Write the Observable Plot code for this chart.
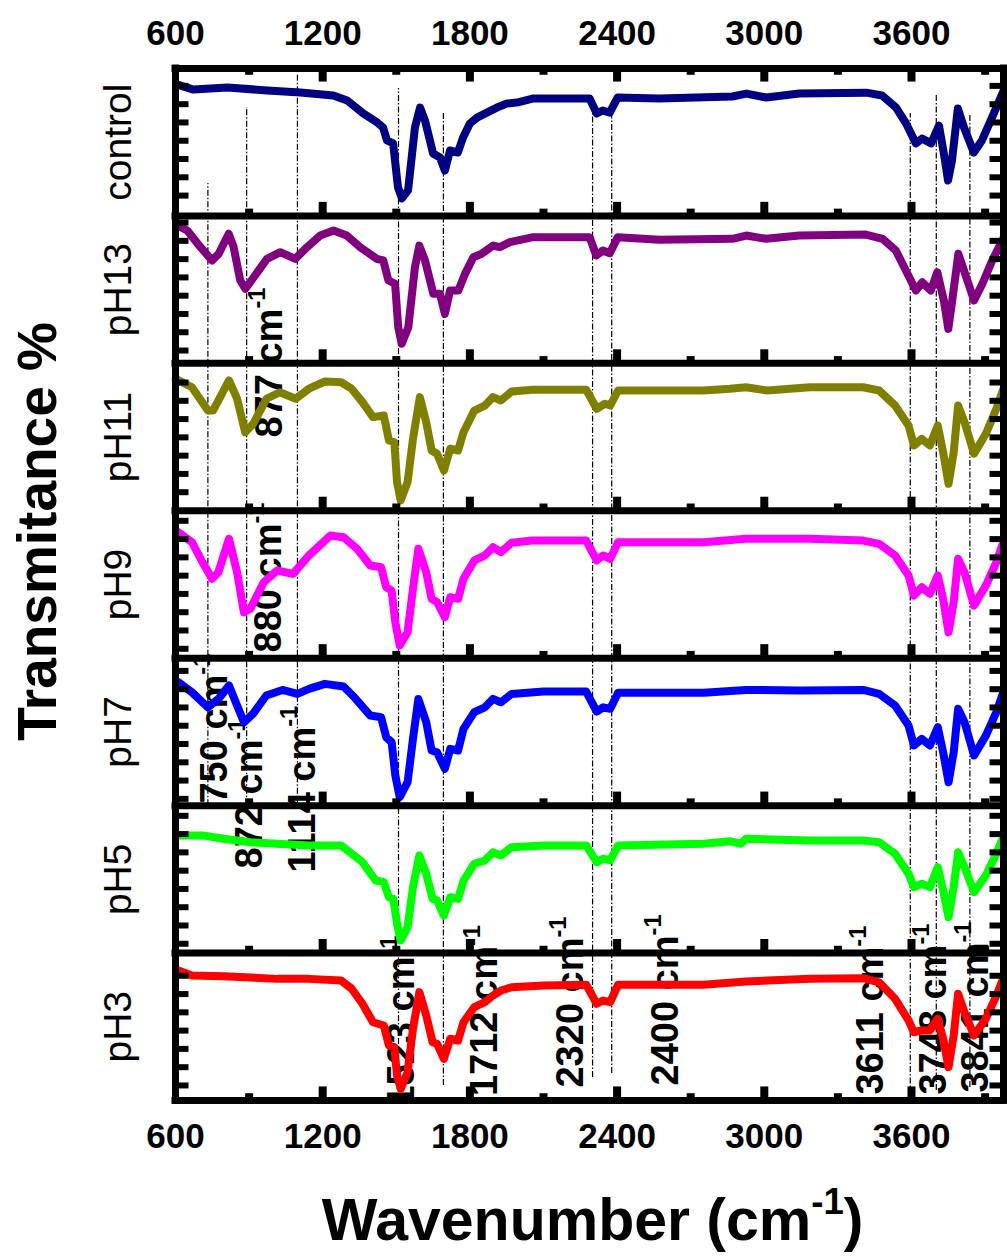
<!DOCTYPE html>
<html><head><meta charset="utf-8">
<script src="https://cdn.jsdelivr.net/npm/d3@7"></script>
<script src="https://cdn.jsdelivr.net/npm/@observablehq/plot@0.6"></script>
<style>
html,body{margin:0;padding:0;background:#fff;}
#chart svg{display:block;}
</style></head><body><div id="chart"></div>
<script>
// Panels listed bottom -> top
const panelNames = ["pH3","pH5","pH7","pH9","pH11","pH13","control"];
const panelColors = ["#FF0000","#00FF00","#0000FF","#FF00FF","#808000","#800080","#000080"];
const panelTickBase = [10.2, 6.3, 4.6, 6.4, 12.6, 8.7, 13.8];

// spectra: [wavenumber, transmittance % of panel height]
const control = [[608,89.1],[673,85.7],[812,87.1],[974,85.1],[1109,83.7],[1243,81.7],[1300,78.3],[1365,69.5],[1422,63.4],[1446,60.0],[1462,51.2],[1487,49.2],[1507,19.3],[1523,11.9],[1548,17.3],[1576,60.0],[1597,73.5],[1617,64.7],[1650,42.3],[1678,39.6],[1698,30.8],[1719,44.4],[1751,43.0],[1772,53.2],[1800,62.7],[1829,66.7],[1869,70.1],[1910,73.5],[1951,76.2],[1991,76.9],[2056,79.6],[2288,79.6],[2317,69.5],[2341,71.5],[2370,70.1],[2402,80.3],[2573,79.6],[2870,81.0],[2927,83.0],[3008,80.3],[3143,83.0],[3415,83.6],[3480,81.7],[3537,73.5],[3578,62.7],[3618,49.2],[3643,52.5],[3680,49.2],[3712,61.3],[3732,42.3],[3749,24.0],[3765,37.6],[3789,72.9],[3814,60.0],[3854,43.0],[3887,51.2],[3928,66.7],[3976,85.1]];
const pH13 = [[607,93.5],[648,90.1],[702,78.8],[749,69.8],[776,74.3],[817,87.9],[837,78.8],[864,56.2],[885,50.6],[919,58.4],[973,70.9],[1027,75.4],[1088,70.9],[1136,78.8],[1190,86.7],[1244,90.1],[1298,86.7],[1353,78.8],[1420,70.9],[1447,69.8],[1468,56.2],[1495,54.0],[1508,24.5],[1522,13.3],[1549,24.5],[1576,65.2],[1594,79.9],[1617,69.8],[1651,47.2],[1678,47.2],[1698,33.6],[1719,49.4],[1753,49.4],[1780,60.7],[1814,72.0],[1848,74.3],[1895,79.9],[1922,78.8],[1963,82.2],[2058,85.6],[2288,85.6],[2315,73.2],[2342,76.6],[2370,74.7],[2403,85.6],[2573,83.8],[2871,84.5],[2926,86.7],[3007,84.5],[3143,86.7],[3414,87.4],[3482,84.5],[3536,76.6],[3577,63.0],[3618,49.4],[3644,55.0],[3679,49.4],[3705,61.8],[3732,42.6],[3750,23.4],[3766,42.6],[3791,74.3],[3814,63.0],[3855,42.6],[3889,54.0],[3929,69.8],[3977,85.6]];
const pH11 = [[601,89.5],[667,83.8],[732,68.0],[753,68.0],[818,88.4],[851,76.0],[884,53.3],[917,59.0],[971,76.0],[1025,80.4],[1090,76.0],[1144,82.8],[1209,87.7],[1275,87.2],[1318,82.8],[1362,73.7],[1405,63.5],[1449,64.6],[1470,47.7],[1492,46.5],[1503,19.4],[1518,7.0],[1546,19.4],[1568,48.8],[1596,77.1],[1622,60.1],[1644,40.9],[1666,38.7],[1694,27.3],[1720,42.1],[1752,40.9],[1774,53.3],[1818,68.0],[1861,71.4],[1894,77.1],[1926,74.8],[1970,80.9],[2056,82.1],[2274,82.1],[2317,69.2],[2350,72.6],[2372,71.4],[2404,81.6],[2752,81.6],[2860,82.8],[2925,83.8],[3012,81.6],[3186,83.8],[3403,83.8],[3468,81.6],[3533,71.4],[3588,57.8],[3610,44.3],[3642,48.8],[3675,44.3],[3707,57.8],[3729,39.7],[3751,18.3],[3772,39.7],[3790,71.4],[3816,60.1],[3855,38.7],[3903,52.2],[3946,69.2],[3979,85.0]];
const pH9 = [[612,85.5],[667,78.7],[710,65.1],[749,53.9],[775,58.3],[818,81.0],[851,58.3],[879,31.2],[905,33.5],[960,51.6],[1014,59.5],[1079,57.2],[1144,69.7],[1231,83.2],[1285,82.1],[1340,74.2],[1394,62.9],[1438,61.7],[1459,48.2],[1481,45.9],[1496,24.4],[1514,8.6],[1546,17.6],[1568,47.1],[1590,74.2],[1622,58.3],[1644,40.3],[1666,38.0],[1698,27.8],[1720,41.4],[1752,40.3],[1774,53.9],[1818,66.3],[1861,69.7],[1894,75.3],[1926,71.9],[1970,78.3],[2056,79.8],[2274,79.8],[2317,66.3],[2343,69.7],[2372,67.4],[2404,78.7],[2752,78.7],[2925,81.0],[3186,81.0],[3403,79.8],[3468,77.6],[3533,69.7],[3588,56.1],[3610,42.5],[3642,48.2],[3675,43.7],[3707,56.1],[3729,40.3],[3751,17.6],[3772,38.0],[3790,67.4],[3816,58.3],[3855,35.7],[3903,49.3],[3946,65.1],[3979,81.0]];
const pH7 = [[612,83.7],[667,76.9],[732,66.7],[775,72.4],[818,81.5],[851,67.9],[879,56.6],[916,62.3],[970,74.7],[1036,78.5],[1097,75.8],[1144,79.2],[1209,82.6],[1285,80.8],[1329,73.5],[1394,61.1],[1438,60.0],[1459,46.4],[1481,43.0],[1496,20.4],[1514,5.7],[1546,15.9],[1568,45.3],[1590,72.4],[1622,56.6],[1644,37.4],[1666,36.2],[1698,25.0],[1720,38.5],[1752,37.4],[1774,52.1],[1818,63.4],[1861,66.7],[1894,72.4],[1926,70.1],[1970,75.8],[2100,77.4],[2274,77.4],[2317,63.8],[2343,66.7],[2372,65.7],[2404,76.5],[2752,76.5],[2925,78.5],[3142,78.1],[3403,78.5],[3468,75.8],[3533,67.9],[3588,54.3],[3610,40.8],[3642,45.3],[3675,40.8],[3707,53.2],[3729,36.2],[3751,15.9],[3772,36.2],[3790,65.7],[3816,56.6],[3855,34.0],[3903,47.5],[3946,63.4],[3979,79.2]];
const pH5 = [[612,79.8],[710,79.8],[797,77.5],[906,75.2],[1014,74.1],[1144,73.0],[1275,73.0],[1318,67.4],[1362,61.7],[1416,49.2],[1449,48.1],[1470,37.9],[1488,36.8],[1503,19.9],[1518,8.5],[1546,17.6],[1568,44.7],[1594,66.2],[1622,53.8],[1648,36.8],[1666,35.7],[1694,25.5],[1720,37.9],[1752,36.8],[1774,49.2],[1818,60.6],[1861,62.8],[1894,68.4],[1926,66.2],[1970,71.8],[2100,73.0],[2274,73.0],[2317,61.7],[2343,64.0],[2372,62.8],[2404,73.0],[2752,74.1],[2860,75.9],[2904,74.1],[2925,77.5],[3186,76.4],[3403,76.4],[3468,75.2],[3533,67.4],[3588,53.8],[3610,44.7],[3642,47.0],[3675,44.7],[3707,58.3],[3729,42.5],[3751,24.4],[3772,44.7],[3790,68.4],[3816,58.3],[3855,41.3],[3903,52.6],[3946,67.4],[3979,80.9]];
const pH3 = [[612,88.2],[667,84.8],[797,84.3],[1014,82.5],[1144,82.5],[1275,81.4],[1318,75.8],[1362,65.6],[1405,53.1],[1449,50.9],[1470,37.3],[1492,36.2],[1503,17.0],[1518,7.9],[1546,19.2],[1568,48.6],[1594,73.5],[1622,57.7],[1648,39.5],[1666,38.5],[1694,28.3],[1720,41.9],[1752,40.7],[1774,53.1],[1818,63.3],[1861,66.7],[1894,71.2],[1926,74.6],[1970,76.8],[2100,78.0],[2274,78.5],[2317,65.6],[2343,67.8],[2372,66.7],[2404,78.5],[2752,78.5],[2925,80.7],[3186,82.5],[3403,83.0],[3468,80.2],[3533,69.0],[3588,54.3],[3610,46.3],[3642,47.5],[3675,47.5],[3707,55.4],[3729,41.9],[3751,22.6],[3772,44.1],[3790,72.4],[3816,59.9],[3855,44.1],[3903,55.4],[3946,71.2],[3979,84.8]];
const spectra = [pH3, pH5, pH7, pH9, pH11, pH13, control];

// reference lines: wavenumber, lower and upper extent (in stacked panel units)
const refLines = [
  {w: 732, y1: 2.0, y2: 6.22}, {w: 890, y1: 2.0, y2: 6.735}, {w: 1097, y1: 2.0, y2: 6.966},
  {w: 1509, y1: 0.068, y2: 6.864}, {w: 1692, y1: 0.102, y2: 6.701},
  {w: 2300, y1: 0.156, y2: 6.695}, {w: 2378, y1: 0.183, y2: 6.783},
  {w: 3595, y1: 0.034, y2: 6.695}, {w: 3701, y1: 0.068, y2: 6.83}, {w: 3838, y1: 0.088, y2: 6.695}
];
// peak annotations (superscript marked with ^)
const annotations = [
  {label: "877 cm^-1", w: 986, y: 4.497}, {label: "880 cm^-1", w: 982, y: 3.039},
  {label: "750 cm^-1", w: 759, y: 2.014}, {label: "872 cm^-1", w: 905, y: 1.574},
  {label: "1114 cm^-1", w: 1117, y: 1.546}, {label: "1523 cm^-1", w: 1524, y: -0.041},
  {label: "1712 cm^-1", w: 1861, y: 0.03}, {label: "2320 cm^-1", w: 2211, y: 0.088},
  {label: "2400 cm^-1", w: 2598, y: 0.102}, {label: "3611 cm^-1", w: 3436, y: 0.04},
  {label: "3748 cm^-1", w: 3692, y: 0.04}, {label: "3841 cm^-1", w: 3863, y: 0.054}
];
const xTickLabels = [600, 1200, 1800, 2400, 3000, 3600];
const xMajor = [1200, 1800, 2400, 3000, 3600];
const xMinor = [900, 1500, 2100, 2700, 3300, 3900];
const xDomain = [600, 3975];

// build tables
const curveMarks = spectra.map((s, i) => Plot.line(s, {
  x: d => d[0], y: d => i + d[1] / 100,
  stroke: panelColors[i], strokeWidth: 8, strokeLinejoin: "round", strokeLinecap: "round"
}));
const yTicks = [];
panelTickBase.forEach((b, i) => { for (let t = b; t < 97; t += 12.4) yTicks.push({y: i + t / 100}); });
const xTicks = [];
for (let i = 0; i < 7; i++) {
  xMajor.forEach(v => xTicks.push({x: v, y1: i, y2: i + 0.092}));
  xMinor.forEach(v => xTicks.push({x: v, y1: i, y2: i + 0.046}));
}
xMajor.forEach(v => xTicks.push({x: v, y1: 7, y2: 7 - 0.092}));
xMinor.forEach(v => xTicks.push({x: v, y1: 7, y2: 7 - 0.046}));

const font = "'Liberation Sans', Arial, Helvetica, sans-serif";
const chart = Plot.plot({
  width: 1007, height: 1257,
  marginTop: 68, marginBottom: 157, marginLeft: 175, marginRight: 4,
  x: {domain: xDomain, axis: null},
  y: {domain: [0, 7], axis: null},
  style: {fontFamily: font, background: "white", color: "black"},
  marks: [
    Plot.ruleX(refLines, {x: "w", y1: "y1", y2: "y2", stroke: "black", strokeWidth: 1.2, strokeDasharray: "6,2,1.5,2"}),
    Plot.text(annotations, {x: "w", y: "y", text: "label", rotate: -90, textAnchor: "start",
      fontSize: 38, fontWeight: "bold", fill: "black", clip: true}),
    ...curveMarks,
    Plot.ruleY(yTicks, {y: "y", x1: 600, x2: 655, stroke: "black", strokeWidth: 6}),
    Plot.ruleY(yTicks, {y: "y", x1: 3920, x2: 3975, stroke: "black", strokeWidth: 6}),
    Plot.ruleX(xTicks, {x: "x", y1: "y1", y2: "y2", stroke: "black", strokeWidth: 8}),
    Plot.ruleY(d3.range(8), {y: d => d, stroke: "black", strokeWidth: 7, strokeLinecap: "square"}),
    Plot.ruleX(xDomain, {x: d => d, y1: 0, y2: 7, stroke: "black", strokeWidth: 7, strokeLinecap: "square"}),
    Plot.text(xTickLabels, {x: d => d, y: 7, dy: -35, text: d => String(d), fontSize: 35, fontWeight: "bold"}),
    Plot.text(xTickLabels, {x: d => d, y: 0, dy: 36, text: d => String(d), fontSize: 35, fontWeight: "bold"}),
    Plot.text(panelNames, {x: 600, y: (d, i) => i + 0.5, dx: -57, rotate: -90, text: d => d, fontSize: 39}),
    Plot.text(["Transmitance %"], {x: 600, y: 3.86, dx: -137, rotate: -90, text: d => d, fontSize: 55, fontWeight: "bold"}),
    Plot.text(["Wavenumber (cm^-1^)"], {x: 2300, y: 0, dy: 121, text: d => d, fontSize: 59, fontWeight: "bold"})
  ]
});
document.getElementById("chart").appendChild(chart);

// superscript post-processing: text between ^ markers is raised
chart.querySelectorAll("text").forEach(t => {
  const s = t.textContent;
  if (!s.includes("^")) return;
  const fs = parseFloat(getComputedStyle(t).fontSize) || 16;
  const parts = s.split("^");
  t.textContent = "";
  const ns = "http://www.w3.org/2000/svg";
  let raised = false;
  parts.forEach((p, i) => {
    const sup = i % 2 === 1;
    if (!p) return;
    const ts = document.createElementNS(ns, "tspan");
    ts.textContent = p;
    if (sup) {
      ts.setAttribute("font-size", (fs * 0.62).toFixed(1));
      ts.setAttribute("dy", (-fs * 0.45).toFixed(1));
      raised = true;
    } else if (raised) {
      ts.setAttribute("dy", (fs * 0.45).toFixed(1));
      raised = false;
    }
    t.appendChild(ts);
  });
});
</script></body></html>
